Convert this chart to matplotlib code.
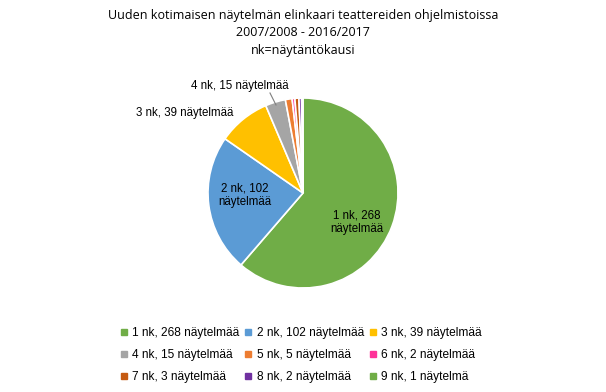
import matplotlib.pyplot as plt
from matplotlib.lines import Line2D

seasons = [1, 2, 3, 4, 5, 6, 7, 8, 9]
plays = [268, 102, 39, 15, 5, 2, 3, 2, 1]
legend_labels = ["1 nk, 268 näytelmää", "2 nk, 102 näytelmää", "3 nk, 39 näytelmää",
                 "4 nk, 15 näytelmää", "5 nk, 5 näytelmää", "6 nk, 2 näytelmää",
                 "7 nk, 3 näytelmää", "8 nk, 2 näytelmää", "9 nk, 1 näytelmä"]
colors = ["#70AD47", "#5B9BD5", "#FFC000", "#A5A5A5", "#ED7D31",
          "#FF3399", "#C55A11", "#7030A0", "#70AD47"]
title = "Uuden kotimaisen näytelmän elinkaari teattereiden ohjelmistoissa\n2007/2008 - 2016/2017\nnk=näytäntökausi"

H = 392
fig = plt.figure(figsize=(6.06, 3.92), dpi=100)
ax = fig.add_axes([0, 0, 1, 1])

ax.pie(plays, colors=colors, startangle=90, counterclock=False,
       center=(303, H - 193), radius=95,
       wedgeprops=dict(edgecolor='white', linewidth=1.2), frame=True)
ax.set_xlim(0, 606)
ax.set_ylim(0, H)
ax.axis('off')

fig.text(0.5, 0.978, title, ha='center', va='top', fontsize=9.0,
         family='Open Sans', linespacing=1.45)

lab = dict(fontsize=8.3, family='Liberation Sans', color='black', ha='center', va='center')
ax.text(357, H - 222, "1 nk, 268\nnäytelmää", **lab)
ax.text(245, H - 195, "2 nk, 102\nnäytelmää", **lab)
ax.text(185, H - 113, "3 nk, 39 näytelmää", **lab)
ax.text(240, H - 86, "4 nk, 15 näytelmää", **lab)
ax.plot([270, 276], [H - 93, H - 105], color='#7f7f7f', lw=0.8)

# legend, row-wise like the original
order = [0, 3, 6, 1, 4, 7, 2, 5, 8]
handles = [Line2D([], [], marker='s', ls='', markersize=4, color=colors[i]) for i in order]
fig.legend(handles, [legend_labels[i] for i in order], ncol=3,
           loc='lower center', bbox_to_anchor=(0.497, -0.005), frameon=False,
           prop=dict(family='Liberation Sans', size=8.6), handlelength=0.6,
           handletextpad=0.4, columnspacing=0.45, labelspacing=0.83)

plt.savefig('out.png', dpi=100)
